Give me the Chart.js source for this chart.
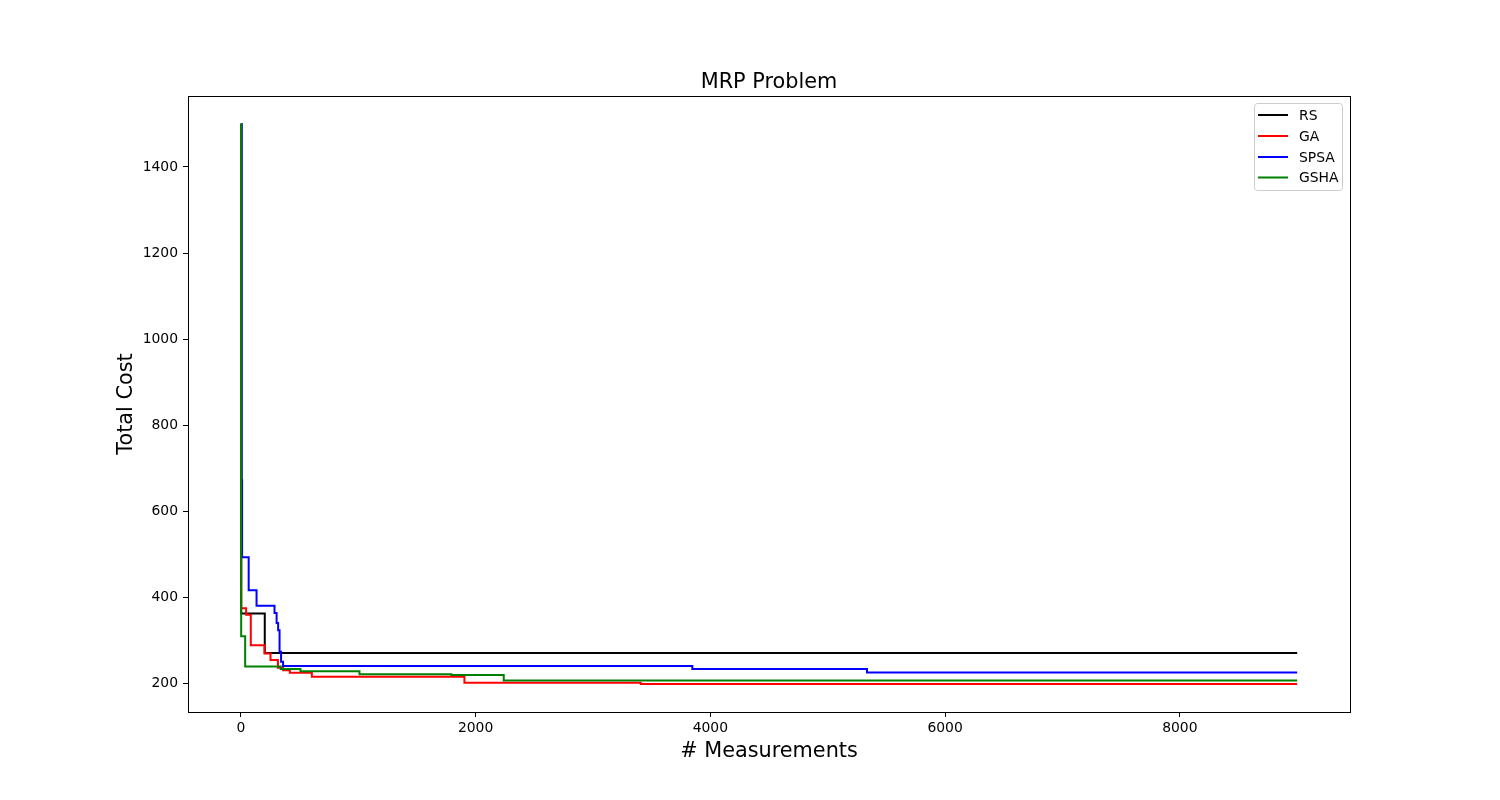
<!DOCTYPE html>
<html>
<head>
<meta charset="utf-8">
<script src="https://cdn.jsdelivr.net/npm/chart.js@4/dist/chart.umd.min.js"></script>
<style>
html,body{margin:0;padding:0;background:#fff;}
canvas{display:block;}
</style>
</head>
<body>
<canvas id="c" width="1500" height="800"></canvas>
<script>
// ---- data ----
const seriesNames = ["RS", "GA", "SPSA", "GSHA"];
const seriesColors = ["#000000", "#ff0000", "#0000ff", "#008000"];

const rsX = [0, 3, 204, 9000];
const rsY = [1500, 362, 270, 270];

const gaX = [0, 3, 45, 85, 202, 253, 316, 360, 418, 605, 1905, 3407, 9000];
const gaY = [1500, 374, 359, 288, 269, 254, 236, 230, 224, 215, 201, 198, 198];

const spsaX = [0, 8, 11, 67, 134, 287, 305, 318, 330, 343, 360, 3847, 5335, 9000];
const spsaY = [1500, 672, 493, 416, 380, 363, 340, 323, 273, 250, 240, 233, 225, 225];

const gshaX = [0, 3, 37, 340, 508, 1011, 1794, 2240, 9000];
const gshaY = [1500, 309, 239, 233, 228, 221, 219, 206, 206];

const xTicks = [0, 2000, 4000, 6000, 8000];
const yTicks = [200, 400, 600, 800, 1000, 1200, 1400];

const titleText = "MRP Problem";
const xLabel = "# Measurements";
const yLabel = "Total Cost";

const FONT = "'DejaVu Sans', sans-serif";

function pts(xs, ys) { return xs.map((x, i) => ({x: x, y: ys[i]})); }
const allX = [rsX, gaX, spsaX, gshaX];
const allY = [rsY, gaY, spsaY, gshaY];

const datasets = seriesNames.map((n, i) => ({
  label: n,
  data: pts(allX[i], allY[i]),
  borderColor: seriesColors[i],
  backgroundColor: seriesColors[i],
  borderWidth: 2,
  pointRadius: 0,
  stepped: true,
  fill: false,
  order: seriesNames.length - i
}));

const decor = {
  id: 'decor',
  afterDatasetsDraw(chart) {
    const ctx = chart.ctx;
    const a = chart.chartArea;
    ctx.save();
    // frame
    ctx.strokeStyle = '#000';
    ctx.lineWidth = 1;
    ctx.strokeRect(Math.round(a.left) + 0.5, Math.round(a.top) + 0.5, Math.round(a.right - a.left), Math.round(a.bottom - a.top));
    // title
    ctx.fillStyle = '#000';
    ctx.textAlign = 'center';
    ctx.textBaseline = 'middle';
    ctx.font = "20.8px " + FONT;
    ctx.fillText(titleText, (a.left + a.right) / 2, 83);
    // x label
    ctx.fillText(xLabel, (a.left + a.right) / 2, 752);
    // y label
    ctx.save();
    ctx.translate(127, (a.top + a.bottom) / 2);
    ctx.rotate(-Math.PI / 2);
    ctx.fillText(yLabel, 0, 0);
    ctx.restore();
    // legend
    const lx = 1254.5, ly = 103.5, lw = 88, lh = 87, r = 3;
    ctx.beginPath();
    ctx.moveTo(lx + r, ly);
    ctx.lineTo(lx + lw - r, ly);
    ctx.quadraticCurveTo(lx + lw, ly, lx + lw, ly + r);
    ctx.lineTo(lx + lw, ly + lh - r);
    ctx.quadraticCurveTo(lx + lw, ly + lh, lx + lw - r, ly + lh);
    ctx.lineTo(lx + r, ly + lh);
    ctx.quadraticCurveTo(lx, ly + lh, lx, ly + lh - r);
    ctx.lineTo(lx, ly + r);
    ctx.quadraticCurveTo(lx, ly, lx + r, ly);
    ctx.closePath();
    ctx.fillStyle = 'rgba(255,255,255,0.8)';
    ctx.fill();
    ctx.strokeStyle = '#cccccc';
    ctx.lineWidth = 1;
    ctx.stroke();
    const rowsY = [115, 136, 157, 177.5];
    ctx.font = "13.9px " + FONT;
    ctx.textAlign = 'left';
    ctx.textBaseline = 'middle';
    seriesNames.forEach((n, i) => {
      ctx.strokeStyle = seriesColors[i];
      ctx.lineWidth = 2;
      ctx.beginPath();
      ctx.moveTo(1258, rowsY[i]);
      ctx.lineTo(1288, rowsY[i]);
      ctx.stroke();
      ctx.fillStyle = '#000';
      ctx.fillText(n, 1299, rowsY[i] + 1);
    });
    ctx.restore();
  }
};

new Chart(document.getElementById('c'), {
  type: 'line',
  data: { datasets: datasets },
  options: {
    responsive: false,
    devicePixelRatio: 1,
    animation: false,
    events: [],
    layout: { padding: { left: 0, right: 150, top: 96, bottom: 0 } },
    plugins: { legend: { display: false }, title: { display: false }, tooltip: { enabled: false } },
    scales: {
      x: {
        type: 'linear',
        min: -450,
        max: 9450,
        afterBuildTicks: s => { s.ticks = xTicks.map(v => ({value: v})); },
        afterFit: s => { s.height = 88; },
        grid: { display: true, drawOnChartArea: false, drawTicks: true, tickLength: 5, color: '#000', lineWidth: 1 },
        border: { display: true, color: '#000', width: 1 },
        ticks: { color: '#000', font: { family: FONT, size: 13.9 }, padding: 3, maxRotation: 0, autoSkip: false,
                 callback: v => String(v) }
      },
      y: {
        type: 'linear',
        min: 133,
        max: 1565,
        afterBuildTicks: s => { s.ticks = yTicks.map(v => ({value: v})); },
        afterFit: s => { s.width = 188; },
        grid: { display: true, drawOnChartArea: false, drawTicks: true, tickLength: 5, color: '#000', lineWidth: 1 },
        border: { display: true, color: '#000', width: 1 },
        ticks: { color: '#000', font: { family: FONT, size: 13.9 }, padding: 5, autoSkip: false,
                 callback: v => String(v) }
      }
    }
  },
  plugins: [decor]
});
</script>
</body>
</html>
